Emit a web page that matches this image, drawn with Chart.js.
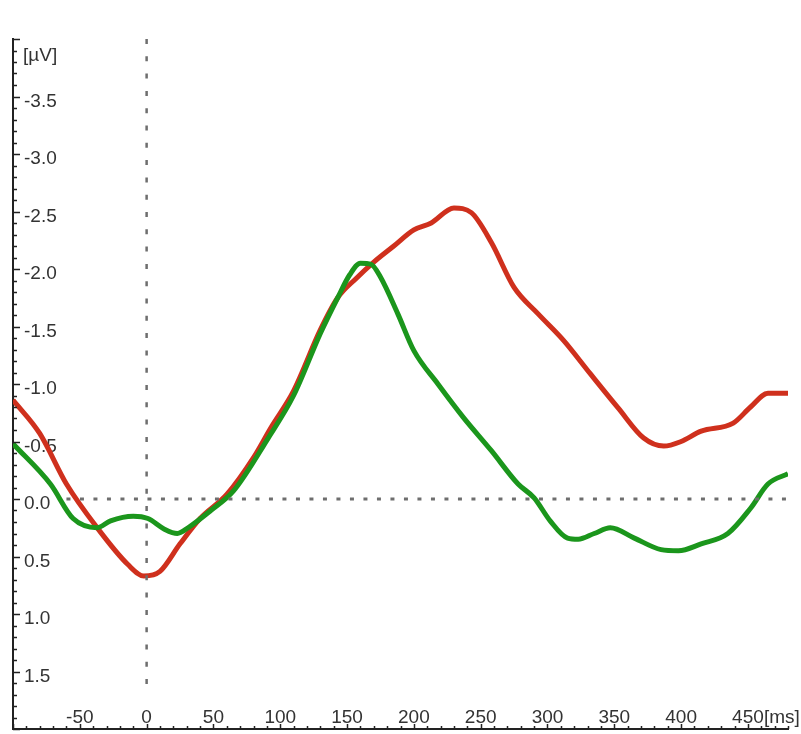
<!DOCTYPE html>
<html lang="en">
<head>
  <meta charset="UTF-8">
  <title>ERP waveform</title>
  <script src="https://cdn.jsdelivr.net/npm/chart.js"></script>
  <style>
    body { margin: 0; background: #fff; }
    #wrap { width: 801px; height: 734px; }
  </style>
</head>
<body>
  <div id="wrap">
    <canvas id="erpChart" width="801" height="734"></canvas>
  </div>

  <script>
    // Red waveform (time in ms, amplitude in µV, negative is up)
    const redTimes = [-100, -80, -60, -37, -14, -2, 10, 25, 40, 60, 80, 93, 110, 130, 143, 157, 170, 185, 200, 213, 230, 243, 258, 275, 293, 312, 332, 353, 372, 387, 400, 415, 439, 452, 465, 480];
    const redValues = [-0.86, -0.57, -0.13, 0.25, 0.57, 0.67, 0.63, 0.39, 0.17, -0.04, -0.36, -0.62, -0.94, -1.47, -1.75, -1.92, -2.06, -2.20, -2.34, -2.40, -2.53, -2.49, -2.23, -1.84, -1.61, -1.38, -1.09, -0.79, -0.53, -0.46, -0.50, -0.59, -0.66, -0.80, -0.92, -0.92];

    // Green waveform
    const greenTimes = [-100, -72, -55, -37, -27, -10, 1, 13, 23, 31, 48, 65, 91, 110, 130, 143, 152, 160, 168, 175, 188, 200, 218, 237, 258, 278, 290, 302, 315, 323, 335, 347, 365, 385, 398, 415, 435, 452, 465, 480];
    const greenValues = [-0.48, -0.13, 0.17, 0.25, 0.19, 0.15, 0.17, 0.26, 0.30, 0.25, 0.10, -0.07, -0.53, -0.90, -1.44, -1.75, -1.95, -2.05, -2.04, -1.93, -1.61, -1.29, -1.00, -0.71, -0.42, -0.13, -0.01, 0.19, 0.34, 0.35, 0.30, 0.25, 0.34, 0.44, 0.45, 0.39, 0.30, 0.08, -0.13, -0.22];

    // axis ranges and tick labels
    const xRange = [-100, 480];
    const yRange = [-4, 2];
    const xTickLabels = [-50, 0, 50, 100, 150, 200, 250, 300, 350, 400, 450];
    const yTickLabels = [-3.5, -3.0, -2.5, -2.0, -1.5, -1.0, -0.5, 0.0, 0.5, 1.0, 1.5];
    const xUnit = '[ms]';
    const yUnit = '[µV]';

    // reference lines: baseline at 0 µV and stimulus onset at 0 ms
    const baselineTimes = [-60, 480];
    const onsetValues = [-4, 1.65];

    const toPoints = (xs, ys) => xs.map((x, i) => ({ x: x, y: ys[i] }));
    const font = { family: 'Liberation Sans, Arial, sans-serif', size: 19 };

    // scales take no room of their own, labels sit inside the plot
    const noRoom = s => {
      if (s.isHorizontal()) s.height = 0; else s.width = 0;
      s.paddingTop = s.paddingBottom = s.paddingLeft = s.paddingRight = 0;
    };

    // small inward tick marks on both axes plus the unit labels
    const axisDecor = {
      id: 'axisDecor',
      afterDraw(chart) {
        const ctx = chart.ctx;
        const xs = chart.scales.x;
        const ys = chart.scales.y;
        const area = chart.chartArea;
        ctx.save();
        ctx.strokeStyle = '#222';
        ctx.lineWidth = 1.5;
        ctx.beginPath();
        for (let v = -40; v <= 20; v++) {
          const py = Math.round(ys.getPixelForValue(v / 10)) + 0.5;
          const len = v % 5 === 0 ? 7 : 4;
          ctx.moveTo(area.left, py);
          ctx.lineTo(area.left + len, py);
        }
        for (let t = -100; t <= 480; t += 10) {
          const px = Math.round(xs.getPixelForValue(t)) + 0.5;
          const len = t % 50 === 0 ? 5 : 3;
          ctx.moveTo(px, area.bottom);
          ctx.lineTo(px, area.bottom - len);
        }
        ctx.stroke();

        ctx.fillStyle = '#333';
        ctx.font = font.size + 'px ' + font.family;
        ctx.textBaseline = 'middle';
        ctx.textAlign = 'left';
        ctx.fillText(yUnit, area.left + 10, area.top + 17);
        ctx.fillText(xUnit, xs.getPixelForValue(462), area.bottom - 11);
        ctx.restore();
      }
    };

    const ctx = document.getElementById('erpChart').getContext('2d');
    const erpChart = new Chart(ctx, {
      type: 'line',
      data: {
        datasets: [
          {
            label: 'baseline',
            data: toPoints(baselineTimes, [0, 0]),
            borderColor: '#6e6e6e',
            borderWidth: 3,
            borderDash: [4, 9.5],
            pointRadius: 0
          },
          {
            label: 'onset',
            data: toPoints([0, 0], onsetValues),
            borderColor: '#6e6e6e',
            borderWidth: 2.5,
            borderDash: [5, 12.3],
            pointRadius: 0
          },
          {
            label: 'green',
            data: toPoints(greenTimes, greenValues),
            borderColor: '#1b961c',
            borderWidth: 5,
            tension: 0.4,
            cubicInterpolationMode: 'monotone',
            pointRadius: 0
          },
          {
            label: 'red',
            data: toPoints(redTimes, redValues),
            borderColor: '#cf301d',
            borderWidth: 5,
            tension: 0.4,
            cubicInterpolationMode: 'monotone',
            pointRadius: 0
          }
        ]
      },
      options: {
        responsive: false,
        animation: false,
        layout: {
          autoPadding: false,
          padding: { left: 13, right: 13, top: 39, bottom: 5 }
        },
        plugins: {
          legend: { display: false },
          tooltip: { enabled: false }
        },
        scales: {
          x: {
            type: 'linear',
            min: xRange[0],
            max: xRange[1],
            grid: { display: false, drawTicks: false },
            border: { display: true, color: '#222', width: 2 },
            afterBuildTicks: s => { s.ticks = xTickLabels.map(v => ({ value: v })); },
            afterFit: noRoom,
            ticks: {
              mirror: true,
              padding: 0,
              color: '#333',
              font: font,
              maxRotation: 0,
              autoSkip: false,
              callback: v => String(v)
            }
          },
          y: {
            type: 'linear',
            reverse: true,
            min: yRange[0],
            max: yRange[1],
            grid: { display: false, drawTicks: false },
            border: { display: true, color: '#222', width: 2 },
            afterBuildTicks: s => { s.ticks = yTickLabels.map(v => ({ value: v })); },
            afterFit: noRoom,
            ticks: {
              mirror: true,
              padding: 11,
              labelOffset: 5,
              color: '#333',
              font: font,
              autoSkip: false,
              callback: v => Number(v).toFixed(1)
            }
          }
        }
      },
      plugins: [axisDecor]
    });
  </script>
</body>
</html>
